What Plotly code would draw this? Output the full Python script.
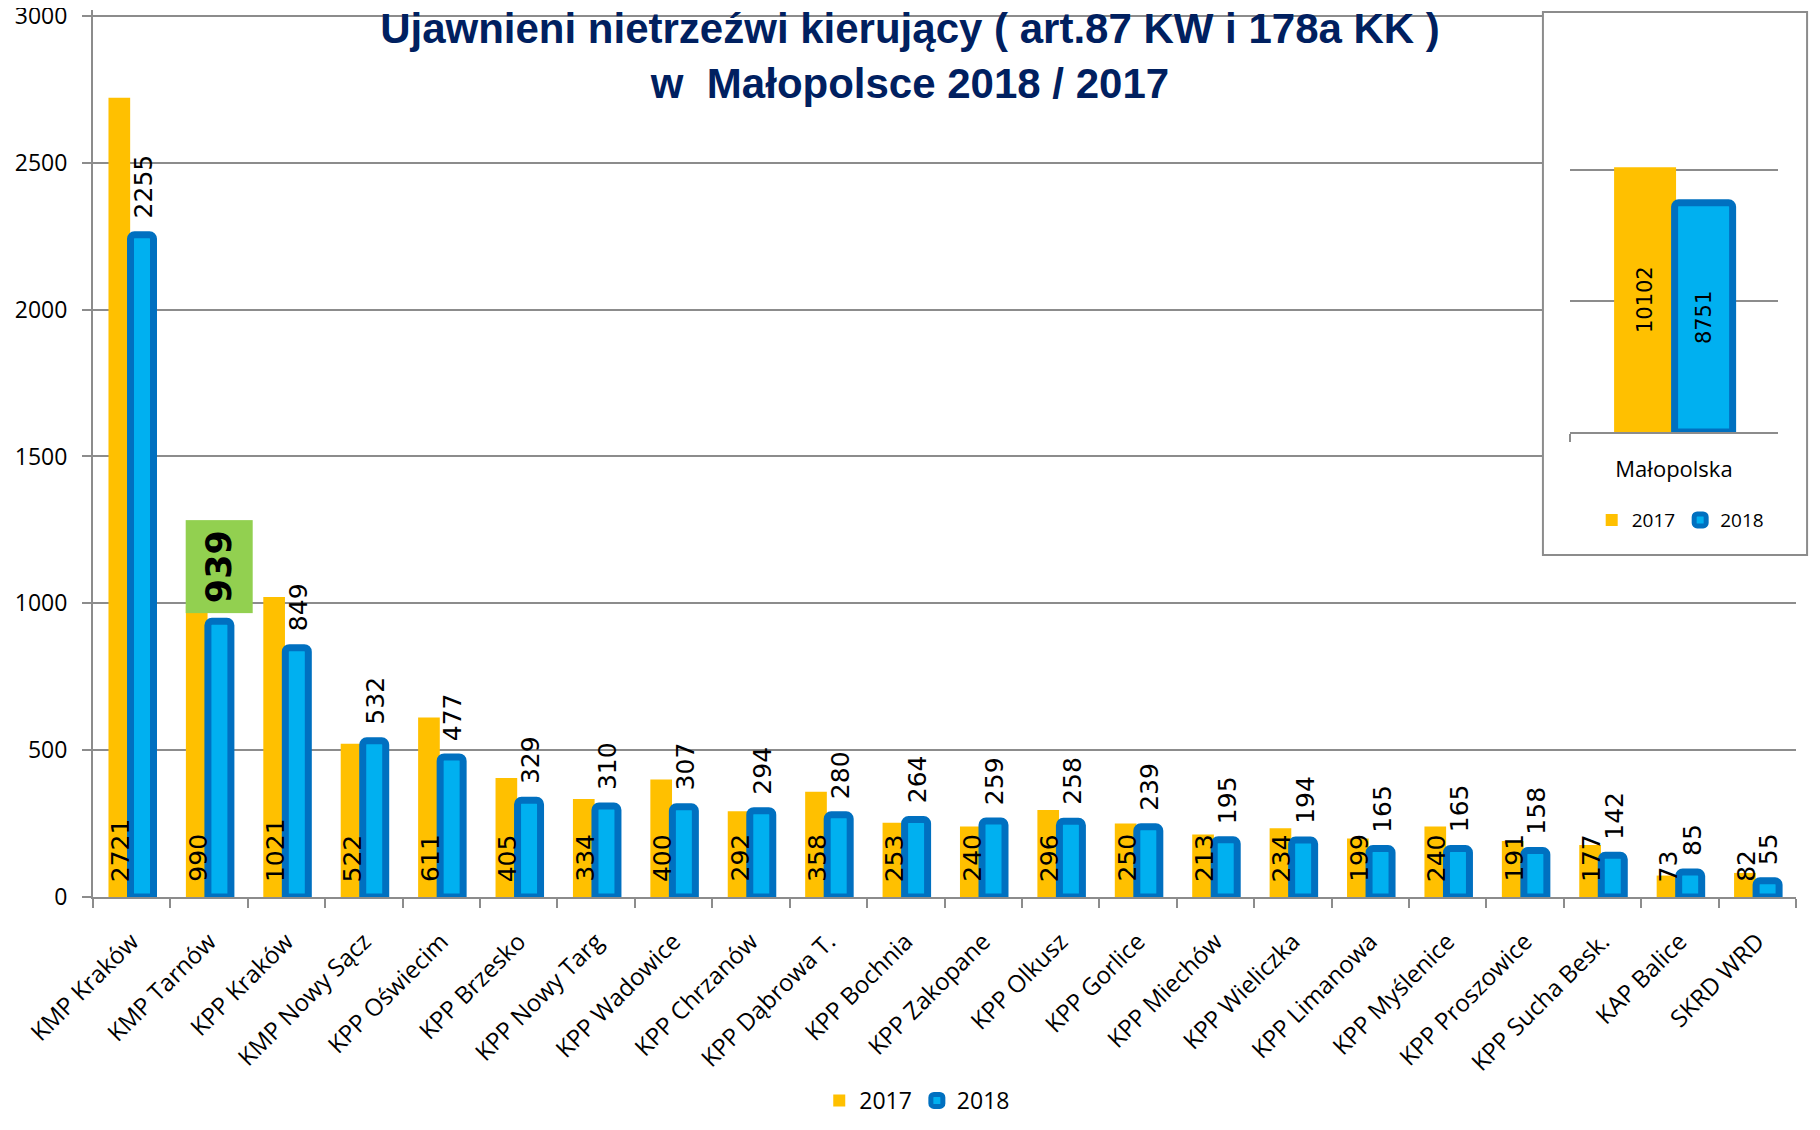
import plotly.graph_objects as go

units = ["KMP Kraków", "KMP Tarnów", "KPP Kraków", "KMP Nowy Sącz", "KPP Oświecim",
         "KPP Brzesko", "KPP Nowy Targ", "KPP Wadowice", "KPP Chrzanów", "KPP Dąbrowa T.",
         "KPP Bochnia", "KPP Zakopane", "KPP Olkusz", "KPP Gorlice", "KPP Miechów",
         "KPP Wieliczka", "KPP Limanowa", "KPP Myślenice", "KPP Proszowice",
         "KPP Sucha Besk.", "KAP Balice", "SKRD WRD"]
v2017 = [2721, 990, 1021, 522, 611, 405, 334, 400, 292, 358, 253, 240, 296, 250, 213,
         234, 199, 240, 191, 177, 73, 82]
v2018 = [2255, 939, 849, 532, 477, 329, 310, 307, 294, 280, 264, 259, 258, 239, 195,
         194, 165, 165, 158, 142, 85, 55]
total_label = ["Małopolska"]
total2017 = [10102]
total2018 = [8751]
highlight = 1  # KMP Tarnów - 2018 value highlighted

YELLOW = "#FFC000"
BLUE = "#00B0F0"
DBLUE = "#0070C0"
GRID = "#8c8c8c"
SANS = "Open Sans, Liberation Sans, sans-serif"
TITLE = "Liberation Sans, Arial, sans-serif"
LABEL = "DejaVu Sans, Verdana, sans-serif"

OFF17, OFF18 = -0.16, 0.133
pos = list(range(len(units)))

fig = go.Figure()
fig.add_bar(x=[p + OFF17 for p in pos], y=v2017, width=0.28, name="2017",
            marker=dict(color=YELLOW, line=dict(width=0)), legend="legend")
fig.add_bar(x=[p + OFF18 for p in pos], y=v2018, width=0.297, name="2018",
            marker=dict(color=BLUE, line=dict(color=DBLUE, width=7), cornerradius=4),
            legend="legend")

# inset: Małopolska totals
fig.add_bar(x=total_label, y=total2017, width=0.298, offset=-0.288, name="2017",
            xaxis="x2", yaxis="y2", legend="legend2",
            marker=dict(color=YELLOW, line=dict(width=0)),
            text=total2017, textposition="inside", insidetextanchor="middle",
            textangle=-90, constraintext="none",
            textfont=dict(family=LABEL, size=21, color="black"))
fig.add_bar(x=total_label, y=total2018, width=0.279, offset=0.003, name="2018",
            xaxis="x2", yaxis="y2", legend="legend2",
            marker=dict(color=BLUE, line=dict(color=DBLUE, width=7), cornerradius=4),
            text=total2018, textposition="inside", insidetextanchor="middle",
            textangle=-90, constraintext="none",
            textfont=dict(family=LABEL, size=21, color="black"))

for i in pos:
    fig.add_annotation(x=i - 0.148, y=0, text=str(v2017[i]), textangle=-90,
                       yanchor="bottom", yshift=13, showarrow=False,
                       font=dict(family=LABEL, size=25, color="black"))
    if i == highlight:
        fig.add_annotation(x=i + OFF18, y=v2018[i], text="<b>%d</b>" % v2018[i],
                           textangle=-90, yanchor="bottom", yshift=8, showarrow=False,
                           width=90, height=64, bgcolor="#92D050",
                           font=dict(family=LABEL, size=35, color="black"))
    else:
        fig.add_annotation(x=i + 0.155, y=v2018[i], text=str(v2018[i]),
                           textangle=-90, yanchor="bottom", yshift=14, showarrow=False,
                           font=dict(family=LABEL, size=25, color="black"))

# white frame of the inset: fill sits above main gridlines, border on top
fig.add_shape(type="rect", xref="x", yref="y", layer="between",
              x0=18.23, x1=22, y0=1164, y1=3020,
              fillcolor="white", line=dict(width=0))
fig.add_shape(type="rect", xref="paper", yref="paper", layer="above",
              x0=0.8514, x1=1.0065, y0=0.3856, y1=0.9977,
              line=dict(color=GRID, width=2))

fig.update_layout(
    width=1804, height=1114,
    margin=dict(l=85, r=16, t=2, b=225, autoexpand=False),
    paper_bgcolor="white", plot_bgcolor="white",
    barmode="overlay",
    title=dict(text="Ujawnieni nietrzeźwi kierujący ( art.87 KW i 178a KK )<br>w  Małopolsce 2018 / 2017",
               x=0.5, xanchor="center", y=0.9685, yanchor="top", pad=dict(t=0),
               font=dict(family=TITLE, size=42, color="#002060", weight="bold")),
    xaxis=dict(range=[-0.5, len(units) - 0.5], tickvals=pos, ticktext=units,
               tickangle=-45, ticks="", ticklabelstandoff=19, automargin=False,
               tickfont=dict(family=SANS, size=24, color="black"),
               showline=True, linecolor=GRID, linewidth=2, showgrid=False, zeroline=False,
               minor=dict(ticks="outside", tick0=-0.5, dtick=1, ticklen=9,
                          tickcolor=GRID, tickwidth=2)),
    yaxis=dict(range=[0, 3020], tickvals=[0, 500, 1000, 1500, 2000, 2500, 3000],
               ticks="outside", ticklen=9, tickcolor=GRID,
               tickwidth=2, ticklabelstandoff=10, automargin=False,
               ticklabeloverflow="allow",
               tickfont=dict(family=SANS, size=23, color="black"),
               showline=True, linecolor=GRID, linewidth=2,
               showgrid=True, gridcolor=GRID, gridwidth=2, zeroline=False),
    xaxis2=dict(domain=[0.8673, 0.9894], anchor="y2", type="category",
                tickson="boundaries", ticks="outside", ticklen=8, tickcolor=GRID,
                tickwidth=2, showline=True, linecolor=GRID, linewidth=2,
                ticklabelstandoff=17,
                tickfont=dict(family=SANS, size=22, color="black")),
    yaxis2=dict(domain=[0.5242, 0.9673], anchor="x2", range=[0, 15000], dtick=5000,
                showticklabels=False, showline=False, showgrid=True, gridcolor=GRID,
                gridwidth=2, zeroline=False),
    legend=dict(orientation="h", x=0.484, xanchor="center", y=-0.2537, yanchor="bottom",
                font=dict(family=SANS, size=23, color="black"), itemwidth=30),
    legend2=dict(orientation="h", x=0.932, xanchor="center", y=0.425, yanchor="middle",
                 font=dict(family=SANS, size=19, color="black"), itemwidth=30,
                 bgcolor="rgba(0,0,0,0)"),
)

fig.write_html("out.html")
